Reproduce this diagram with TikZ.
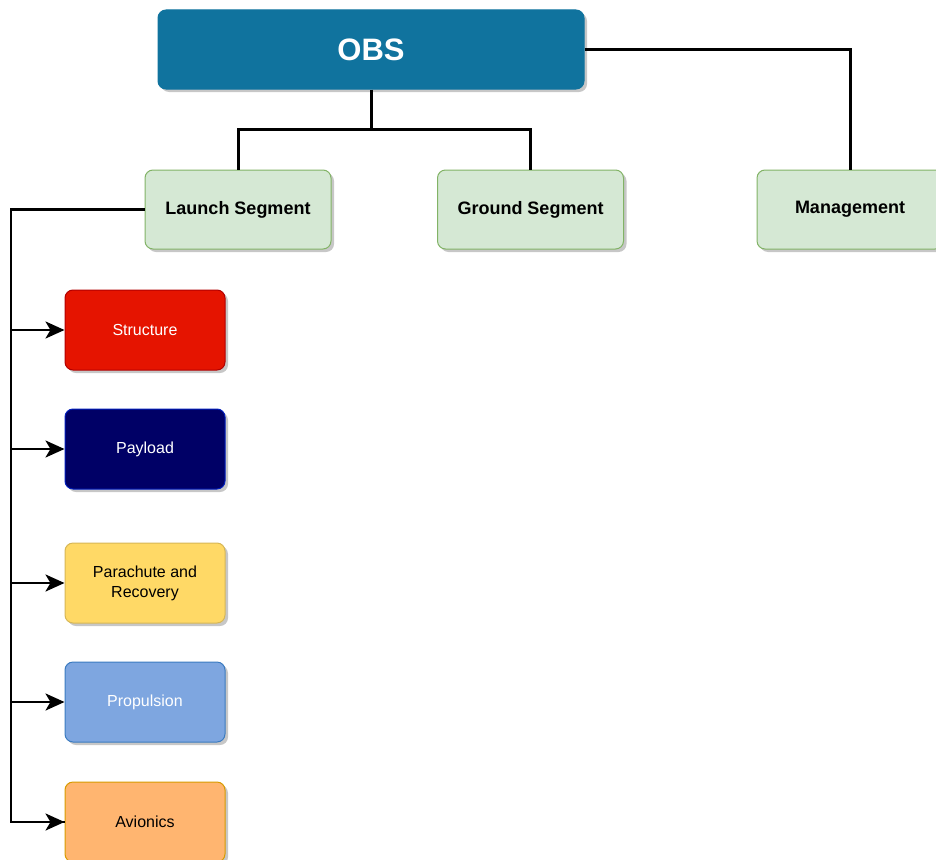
\documentclass[tikz,border=0pt]{standalone}
\usepackage{fontspec}
\setmainfont{Liberation Sans}
\usetikzlibrary{arrows.meta,shadows}
\definecolor{obsfill}{HTML}{10739E}
\definecolor{obsline}{HTML}{10739E}
\definecolor{segfill}{HTML}{D5E8D4}
\definecolor{segline}{HTML}{82B366}
\definecolor{redfill}{HTML}{E51400}
\definecolor{redline}{HTML}{B20000}
\definecolor{navyfill}{HTML}{000066}
\definecolor{navyline}{HTML}{001DBC}
\definecolor{yelfill}{HTML}{FFD966}
\definecolor{yelline}{HTML}{D6B656}
\definecolor{bluefill}{HTML}{7EA6E0}
\definecolor{blueline}{HTML}{3B7BC0}
\definecolor{orfill}{HTML}{FFB570}
\definecolor{orline}{HTML}{D79B00}
\tikzset{
  box/.style={rounded corners=8pt, line width=1pt, align=center,
    drop shadow={shadow xshift=3pt, shadow yshift=-3pt, fill=black, opacity=0.22}},
  topbox/.style={box, fill=obsfill, draw=obsline, minimum width=426pt, minimum height=79pt,
    text=white, font=\fontsize{31}{36}\selectfont\bfseries},
  segbox/.style={box, fill=segfill, draw=segline, minimum width=186pt, minimum height=79pt,
    font=\fontsize{18}{22}\selectfont\bfseries},
  subbox/.style={box, minimum width=160pt, minimum height=80pt,
    font=\fontsize{16}{20}\selectfont},
  tree/.style={line width=3pt, draw=black},
  feed/.style={line width=2.5pt, draw=black, -{Stealth[length=19pt,width=17pt,inset=5pt]}}
}
\begin{document}
\begin{tikzpicture}[x=1pt,y=-1pt]
  \useasboundingbox (0,0) rectangle (936,859);
  \clip (0,0) rectangle (936,859);

  % top of the breakdown
  \node[topbox] (obs) at (371,49.5) {OBS};

  % second level
  \node[segbox] (launch) at (238,209.5) {Launch Segment};
  \node[segbox] (ground) at (530.5,209.5) {Ground Segment};
  \node[segbox] (mgmt) at (850,209.5) {Management};

  % launch segment subsystems
  \node[subbox, fill=redfill, draw=redline, text=white] (struct) at (145,330) {Structure};
  \node[subbox, fill=navyfill, draw=navyline, text=white] (payload) at (145,449) {Payload};
  \node[subbox, fill=yelfill, draw=yelline] (para) at (145,583) {Parachute and\\Recovery};
  \node[subbox, fill=bluefill, draw=blueline, text=white] (prop) at (145,702) {Propulsion};
  \node[subbox, fill=orfill, draw=orline] (avio) at (145,822) {Avionics};

  % tree connectors
  \coordinate (split) at (371,129);
  \draw[tree] (obs.south) -- (split);
  \draw[tree] (launch.north) |- (split) -| (ground.north);
  \draw[tree] (obs.east) -| (mgmt.north);

  % bus from the launch segment to its subsystems
  \coordinate (bus) at (11,209.5);
  \draw[line width=2.5pt] (launch.west) -- (bus) |- (avio.west);
  \foreach \n in {struct,payload,para,prop,avio}
    \draw[feed] (bus |- \n.west) -- (\n.west);
\end{tikzpicture}
\end{document}
